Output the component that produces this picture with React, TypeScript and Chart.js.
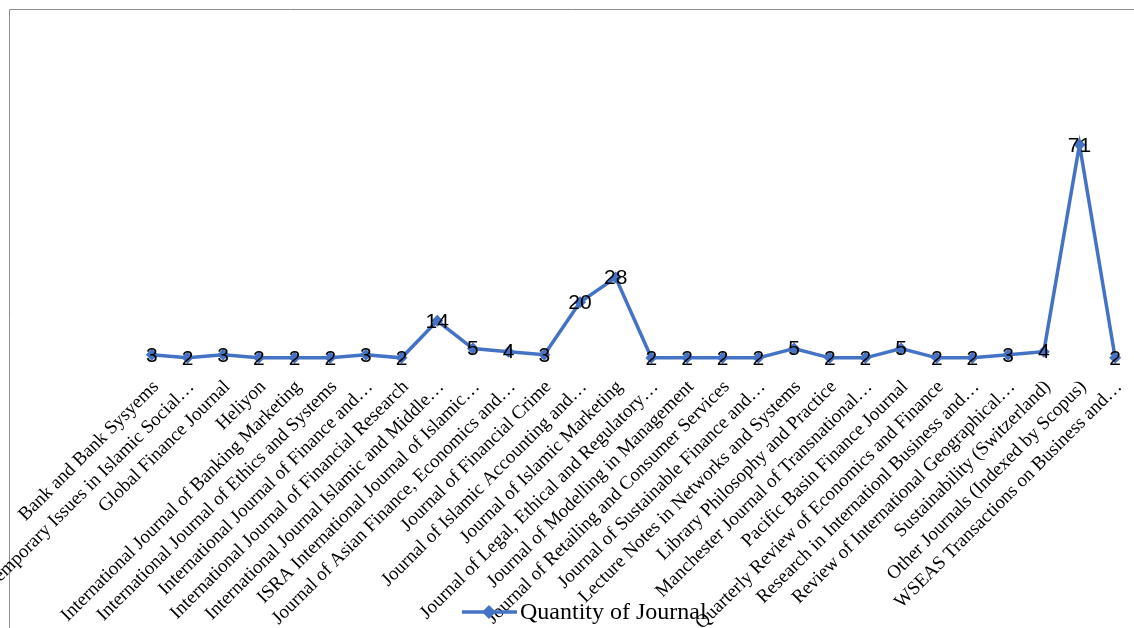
import React, { useEffect, useRef } from "react";
import { Chart, registerables } from "chart.js";

Chart.register(...registerables);

const categories: string[] = [
  "Bank and Bank Sysyems",
  "Contemporary Issues in Islamic Social…",
  "Global Finance Journal",
  "Heliyon",
  "International Journal of Banking Marketing",
  "International Journal of Ethics and Systems",
  "International Journal of Finance and…",
  "International Journal of Financial Research",
  "International Journal Islamic and Middle…",
  "ISRA International Journal of Islamic…",
  "Journal of Asian Finance, Economics and…",
  "Journal of Financial Crime",
  "Journal of Islamic Accounting and…",
  "Journal of Islamic Marketing",
  "Journal of Legal, Ethical and Regulatory…",
  "Journal of Modelling in Management",
  "Journal of Retailing and Consumer Services",
  "Journal of Sustainable Finance and…",
  "Lecture Notes in Networks and Systems",
  "Library Philosophy and Practice",
  "Manchester Journal of Transnational…",
  "Pacific Basin Finance Journal",
  "Quarterly Review of Economics and Finance",
  "Research in Internationl Business and…",
  "Review of International Geographical…",
  "Sustainability (Switzerland)",
  "Other Journals (Indexed by Scopus)",
  "WSEAS Transactions on Business and…",
];

const quantities: number[] = [
  3, 2, 3, 2, 2, 2, 3, 2, 14, 5, 4, 3, 20, 28, 2, 2, 2, 2, 5, 2, 2, 5, 2, 2, 3, 4, 71, 2,
];

const seriesName = "Quantity of Journal";
const yMin = 0;
const yMax = 80;

const LINE_COLOR = "#4472C4";
const SERIF = "'Liberation Serif', 'Times New Roman', serif";
const SANS = "'Liberation Sans', Arial, sans-serif";

export default function App() {
  const ref = useRef<HTMLCanvasElement>(null);

  useEffect(() => {
    const canvas = ref.current;
    if (!canvas) return;

    const framePlugin = {
      id: "frame",
      beforeDraw(chart: any) {
        const ctx = chart.ctx;
        ctx.save();
        ctx.fillStyle = "#ffffff";
        ctx.fillRect(0, 0, chart.width, chart.height);
        ctx.strokeStyle = "#8e8e8e";
        ctx.lineWidth = 1;
        ctx.beginPath();
        ctx.moveTo(9.5, chart.height);
        ctx.lineTo(9.5, 9.5);
        ctx.lineTo(chart.width, 9.5);
        ctx.stroke();
        ctx.restore();
      },
    };

    const valueLabelPlugin = {
      id: "valueLabels",
      afterDatasetsDraw(chart: any) {
        const ctx = chart.ctx;
        const meta = chart.getDatasetMeta(0);
        const data = chart.data.datasets[0].data as number[];
        ctx.save();
        ctx.font = `21px ${SANS}`;
        ctx.fillStyle = "#000000";
        ctx.textAlign = "center";
        ctx.textBaseline = "middle";
        meta.data.forEach((el: any, i: number) => {
          ctx.fillText(String(data[i]), el.x, el.y + 1);
        });
        ctx.restore();
      },
    };

    const legendPlugin = {
      id: "customLegend",
      afterDraw(chart: any) {
        const ctx = chart.ctx;
        const y = 612;
        const x0 = 462;
        ctx.save();
        ctx.strokeStyle = LINE_COLOR;
        ctx.lineWidth = 3.5;
        ctx.beginPath();
        ctx.moveTo(x0, y);
        ctx.lineTo(x0 + 55, y);
        ctx.stroke();
        ctx.fillStyle = LINE_COLOR;
        const cx = x0 + 27;
        const r = 7;
        ctx.beginPath();
        ctx.moveTo(cx, y - r);
        ctx.lineTo(cx + r, y);
        ctx.lineTo(cx, y + r);
        ctx.lineTo(cx - r, y);
        ctx.closePath();
        ctx.fill();
        ctx.fillStyle = "#000000";
        ctx.font = `24px ${SERIF}`;
        ctx.textAlign = "left";
        ctx.textBaseline = "middle";
        ctx.fillText(seriesName, x0 + 58, y + 1);
        ctx.restore();
      },
    };

    const chart = new Chart(canvas, {
      type: "line",
      data: {
        labels: categories,
        datasets: [
          {
            label: seriesName,
            data: quantities,
            borderColor: LINE_COLOR,
            backgroundColor: LINE_COLOR,
            borderWidth: 3.5,
            tension: 0,
            pointStyle: "rectRot",
            pointRadius: 6,
            pointBackgroundColor: LINE_COLOR,
            pointBorderColor: LINE_COLOR,
            pointBorderWidth: 0,
            fill: false,
            clip: false as any,
          },
        ],
      },
      options: {
        responsive: false,
        animation: false,
        devicePixelRatio: 1,
        layout: { autoPadding: false, padding: { left: 134, right: 1, top: 117, bottom: 0 } },
        plugins: {
          legend: { display: false },
          tooltip: { enabled: false },
          title: { display: false },
        },
        scales: {
          x: {
            type: "category",
            offset: true,
            grid: { display: false, drawTicks: false },
            border: { display: false },
            ticks: {
              autoSkip: false,
              minRotation: 45,
              maxRotation: 45,
              padding: 12,
              labelOffset: 4,
              color: "#000000",
              font: { family: SERIF, size: 19 },
            },
            afterFit(scale: any) {
              scale.height = 264;
              scale.paddingLeft = 0;
              scale.paddingRight = 0;
            },
          },
          y: {
            display: false,
            min: yMin,
            max: yMax,
          },
        },
      },
      plugins: [framePlugin, valueLabelPlugin, legendPlugin],
    });

    return () => {
      chart.destroy();
    };
  }, []);

  return (
    <div style={{ position: "fixed", left: 0, top: 0, width: 1134, height: 628, overflow: "hidden", background: "#fff" }}>
      <canvas
        ref={ref}
        width={1134}
        height={628}
        style={{ display: "block", width: 1134, height: 628 }}
      />
    </div>
  );
}
